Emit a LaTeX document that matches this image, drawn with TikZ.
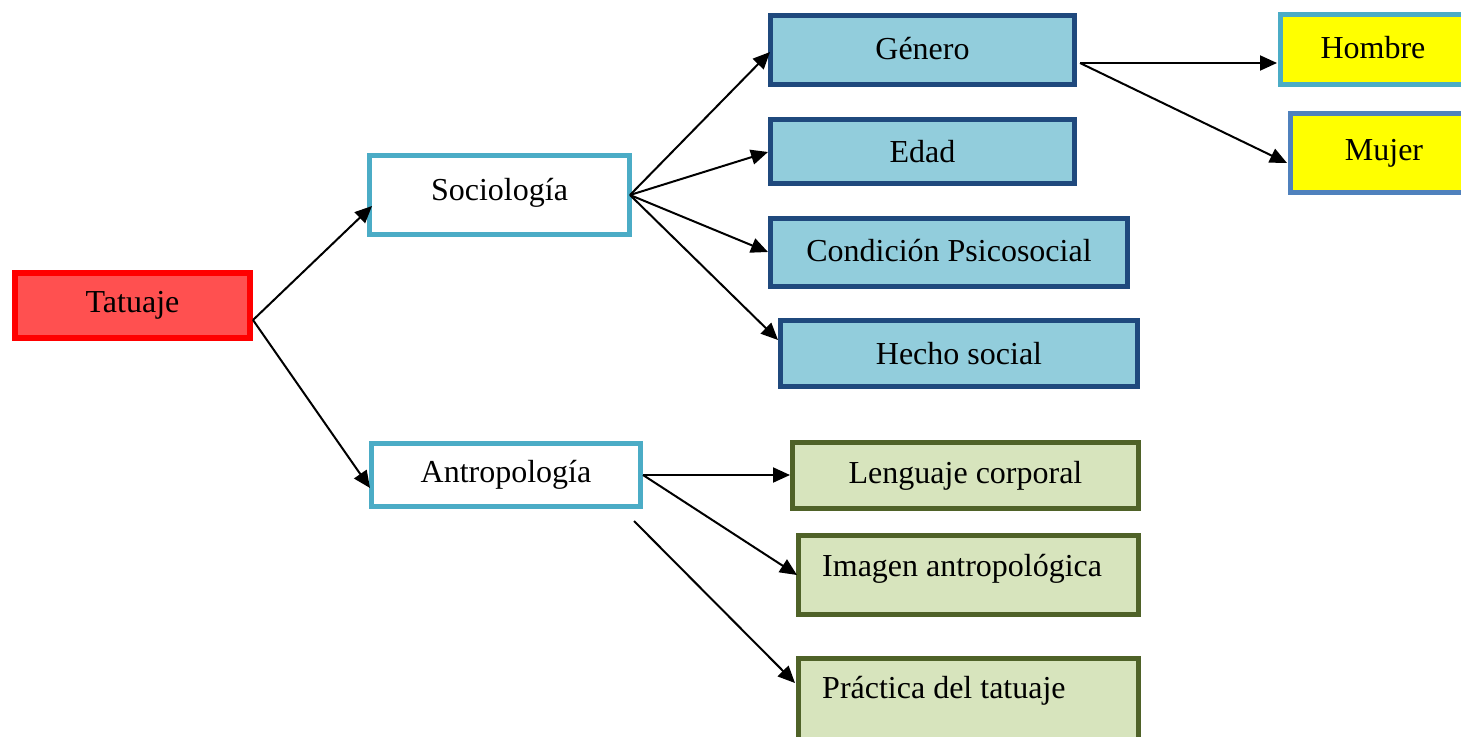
\documentclass[tikz,border=0pt]{standalone}
\usepackage{fontspec}
\setmainfont{Liberation Serif}
\usetikzlibrary{arrows.meta}
\definecolor{tatfill}{HTML}{FF5050}
\definecolor{tatdraw}{HTML}{FF0000}
\definecolor{aqua}{HTML}{4BACC6}
\definecolor{bluefill}{HTML}{92CDDC}
\definecolor{bluedraw}{HTML}{1F497D}
\definecolor{greenfill}{HTML}{D7E4BD}
\definecolor{greendraw}{HTML}{4F6228}
\definecolor{mujdraw}{HTML}{4F81BD}
\definecolor{yel}{HTML}{FFFF00}
\tikzset{
  box/.style={rectangle, inner sep=0pt, font=\fontsize{32}{38}\selectfont, text=black},
  tatbox/.style={box, draw=tatdraw, fill=tatfill, line width=6pt},
  mainbox/.style={box, draw=aqua, fill=white, line width=5pt},
  bluebox/.style={box, draw=bluedraw, fill=bluefill, line width=5pt},
  greenbox/.style={box, draw=greendraw, fill=greenfill, line width=5pt},
  yelbox/.style={box, fill=yel, line width=5pt},
  lbl/.style={inner sep=0pt, font=\fontsize{32}{38}\selectfont, anchor=west},
  conn/.style={line width=2pt, -{Triangle[length=17pt,width=15pt]}}
}
\begin{document}
\begin{tikzpicture}[x=1pt,y=-1pt]
\useasboundingbox (0,0) rectangle (1461,736);
\clip (0,0) rectangle (1461,736);
\fill[white] (0,0) rectangle (1461,736);
% boxes
\node[tatbox, minimum width=235pt, minimum height=65pt] (tat) at (132.5,305.5) {\raisebox{-4pt}{Tatuaje}};
\node[mainbox, minimum width=260pt, minimum height=79pt] (soc) at (499.5,195) {\raisebox{12pt}{Sociología}};
\node[mainbox, minimum width=269pt, minimum height=63pt] (ant) at (506,475) {Antropología};
\node[bluebox, minimum width=304pt, minimum height=69pt] (gen) at (922.5,50) {\raisebox{4pt}{Género}};
\node[bluebox, minimum width=304pt, minimum height=64pt] (eda) at (922.5,151.5) {Edad};
\node[bluebox, minimum width=357pt, minimum height=68pt] (con) at (949,252.5) {\raisebox{4pt}{Condición Psicosocial}};
\node[bluebox, minimum width=357pt, minimum height=66pt] (hec) at (959,353.5) {Hecho social};
\node[greenbox, minimum width=346pt, minimum height=66pt] (len) at (965.5,475.5) {Lenguaje corporal};
\node[greenbox, minimum width=340pt, minimum height=79pt] (img) at (968.5,575) {};
\node[lbl] (imgt) at (822,569) {Imagen antropológica};
\node[greenbox, minimum width=340pt, minimum height=84pt] (pra) at (968.5,700) {};
\node[lbl] (prat) at (822,691) {Práctica del tatuaje};
\node[yelbox, draw=aqua, minimum width=185pt, minimum height=70pt] (hom) at (1373,49.5) {\raisebox{4pt}{Hombre}};
\node[yelbox, draw=mujdraw, minimum width=187pt, minimum height=79pt] (muj) at (1384,153) {\raisebox{4pt}{Mujer}};
% connector points
\coordinate (t0) at (253,320);
\coordinate (s0) at (630,195);
\coordinate (g0) at (1080,63);
\coordinate (a0) at (643,475);
\coordinate (a1) at (634,521);
\coordinate (socin) at (372,206);
\coordinate (antin) at (370,488);
\coordinate (genin) at (770,52);
\coordinate (edain) at (768,152);
\coordinate (conin) at (768,252);
\coordinate (hecin) at (778,340);
\coordinate (homin) at (1277,63);
\coordinate (mujin) at (1287,163);
\coordinate (lenin) at (790,475);
\coordinate (imgin) at (797,575);
\coordinate (prain) at (795,683);
% connectors
\draw[conn] (t0) -- (socin);
\draw[conn] (t0) -- (antin);
\draw[conn] (s0) -- (genin);
\draw[conn] (s0) -- (edain);
\draw[conn] (s0) -- (conin);
\draw[conn] (s0) -- (hecin);
\draw[conn] (g0) -- (homin);
\draw[conn] (g0) -- (mujin);
\draw[conn] (a0) -- (lenin);
\draw[conn] (a0) -- (imgin);
\draw[conn] (a1) -- (prain);
\end{tikzpicture}
\end{document}
